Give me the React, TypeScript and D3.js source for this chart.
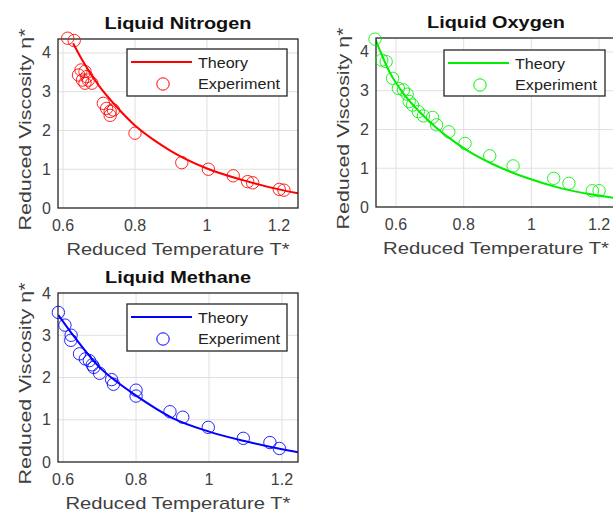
import React from 'react';
import * as d3 from 'd3';

// ---------- data ----------
const xTicks = [0.6, 0.8, 1, 1.2];
const xTickLabels = ['0.6', '0.8', '1', '1.2'];
const yTicks = [0, 1, 2, 3, 4];
const yTickLabels = ['0', '1', '2', '3', '4'];

const titles = ['Liquid Nitrogen', 'Liquid Oxygen', 'Liquid Methane'];
const xLabel = 'Reduced Temperature T*';
const yLabel = 'Reduced  Viscosity  η*';
const legendLabels = ['Theory', 'Experiment'];

const nitrogenTheoryT = [0.628, 0.65, 0.7, 0.75, 0.8, 0.85, 0.9, 1.0, 1.1, 1.2, 1.253];
const nitrogenTheoryEta = [4.25, 3.87, 3.15, 2.6, 2.13, 1.77, 1.47, 1.02, 0.72, 0.48, 0.38];
const nitrogenExpT = [0.613, 0.631, 0.65, 0.661, 0.643, 0.666, 0.654, 0.67, 0.661, 0.68, 0.712, 0.721, 0.731, 0.74, 0.731, 0.8, 0.93, 1.004, 1.073, 1.113, 1.127, 1.201, 1.214];
const nitrogenExpEta = [4.38, 4.32, 3.56, 3.52, 3.43, 3.39, 3.3, 3.3, 3.22, 3.22, 2.7, 2.57, 2.49, 2.53, 2.39, 1.93, 1.17, 1.0, 0.83, 0.68, 0.65, 0.48, 0.46];

const oxygenTheoryT = [0.54, 0.58, 0.62, 0.67, 0.72, 0.77, 0.82, 0.89, 0.99, 1.08, 1.18, 1.25];
const oxygenTheoryEta = [4.31, 3.5, 2.95, 2.45, 2.04, 1.7, 1.41, 1.09, 0.74, 0.5, 0.32, 0.23];
const oxygenExpT = [0.538, 0.558, 0.571, 0.59, 0.607, 0.622, 0.633, 0.639, 0.649, 0.666, 0.681, 0.708, 0.72, 0.756, 0.804, 0.877, 0.946, 1.066, 1.111, 1.18, 1.2];
const oxygenExpEta = [4.33, 3.79, 3.75, 3.32, 3.06, 3.02, 2.91, 2.72, 2.63, 2.46, 2.35, 2.31, 2.12, 1.94, 1.64, 1.32, 1.06, 0.74, 0.61, 0.42, 0.42];

const methaneTheoryT = [0.587, 0.63, 0.7, 0.75, 0.8, 0.9, 1.0, 1.1, 1.2, 1.244];
const methaneTheoryEta = [3.48, 2.97, 2.24, 1.88, 1.57, 1.04, 0.72, 0.49, 0.3, 0.23];
const methaneExpT = [0.587, 0.605, 0.622, 0.621, 0.645, 0.661, 0.672, 0.68, 0.684, 0.7, 0.733, 0.738, 0.8, 0.8, 0.893, 0.928, 0.998, 1.094, 1.167, 1.193];
const methaneExpEta = [3.54, 3.24, 3.0, 2.88, 2.56, 2.44, 2.4, 2.3, 2.24, 2.1, 1.95, 1.84, 1.7, 1.56, 1.19, 1.06, 0.82, 0.56, 0.46, 0.32];

const colors = ['#ff0000', '#00ee00', '#0000ff'];

const FONT = "'Liberation Sans', Arial, Helvetica, sans-serif";

type PanelSpec = {
  title: string;
  color: string;
  theoryT: number[];
  theoryEta: number[];
  expT: number[];
  expEta: number[];
  box: { x0: number; x1: number; y0: number; y1: number };
  xDomain: [number, number];
  yDomain: [number, number];
  legend: { x: number; y: number; w: number; h: number };
  titleLen: number;
  xLabelLen: number;
};

const panels: PanelSpec[] = [
  {
    title: titles[0], color: colors[0],
    theoryT: nitrogenTheoryT, theoryEta: nitrogenTheoryEta, expT: nitrogenExpT, expEta: nitrogenExpEta,
    box: { x0: 58, x1: 298, y0: 39, y1: 208 }, xDomain: [0.586, 1.253], yDomain: [0, 4.36],
    legend: { x: 127, y: 49, w: 160, h: 47 }, titleLen: 147, xLabelLen: 223,
  },
  {
    title: titles[1], color: colors[1],
    theoryT: oxygenTheoryT, theoryEta: oxygenTheoryEta, expT: oxygenExpT, expEta: oxygenExpEta,
    box: { x0: 376, x1: 616, y0: 38, y1: 207 }, xDomain: [0.541, 1.25], yDomain: [0, 4.36],
    legend: { x: 444, y: 50, w: 161, h: 46 }, titleLen: 138, xLabelLen: 226,
  },
  {
    title: titles[2], color: colors[2],
    theoryT: methaneTheoryT, theoryEta: methaneTheoryEta, expT: methaneExpT, expEta: methaneExpEta,
    box: { x0: 58, x1: 298, y0: 293, y1: 462 }, xDomain: [0.586, 1.244], yDomain: [0, 4],
    legend: { x: 127, y: 304, w: 160, h: 47 }, titleLen: 146, xLabelLen: 225,
  },
];

function Panel({ p, idx }: { p: PanelSpec; idx: number }) {
  const { box } = p;
  const x = d3.scaleLinear().domain(p.xDomain).range([box.x0, box.x1]);
  const y = d3.scaleLinear().domain(p.yDomain).range([box.y1, box.y0]);
  const theory = p.theoryT.map((t, i) => [t, p.theoryEta[i]] as [number, number]);
  const line = d3
    .line<[number, number]>()
    .x((d) => x(d[0]))
    .y((d) => y(d[1]))
    .curve(d3.curveMonotoneX);
  const cx = (box.x0 + box.x1) / 2;
  const cy = (box.y0 + box.y1) / 2;
  const clipId = `clip-${idx}`;
  const lg = p.legend;
  const tickGray = '#404040';
  return (
    <g>
      <defs>
        <clipPath id={clipId}>
          <rect x={box.x0} y={box.y0} width={box.x1 - box.x0} height={box.y1 - box.y0} />
        </clipPath>
      </defs>
      <rect x={box.x0} y={box.y0} width={box.x1 - box.x0} height={box.y1 - box.y0} fill="#fff" />
      {xTicks.map((t) => (
        <line key={`gx${t}`} x1={x(t)} x2={x(t)} y1={box.y0} y2={box.y1} stroke="#e0e0e0" strokeWidth={1} />
      ))}
      {yTicks
        .filter((t) => t > p.yDomain[0] && t < p.yDomain[1])
        .map((t) => (
          <line key={`gy${t}`} x1={box.x0} x2={box.x1} y1={y(t)} y2={y(t)} stroke="#e0e0e0" strokeWidth={1} />
        ))}
      <path d={line(theory) || ''} fill="none" stroke={p.color} strokeWidth={2} clipPath={`url(#${clipId})`} />
      <rect x={box.x0} y={box.y0} width={box.x1 - box.x0} height={box.y1 - box.y0} fill="none" stroke="#262626" strokeWidth={1.3} />
      {p.expT.map((t, i) => (
        <circle key={`c${i}`} cx={x(t)} cy={y(p.expEta[i])} r={6.2} fill="none" stroke={p.color} strokeWidth={1} strokeOpacity={0.85} />
      ))}
      {xTicks.map((t, i) => (
        <text key={`tx${t}`} x={x(t)} y={box.y1 + 23} textAnchor="middle" fontSize={16} fill={tickGray} fontFamily={FONT}>
          {xTickLabels[i]}
        </text>
      ))}
      {yTicks.map((t, i) => (
        <text key={`ty${t}`} x={box.x0 - 7} y={y(t) + 5.5} textAnchor="end" fontSize={16} fill={tickGray} fontFamily={FONT}>
          {yTickLabels[i]}
        </text>
      ))}
      <text x={cx} y={box.y0 - 10} textAnchor="middle" fontSize={17} fontWeight="bold" fill="#111" fontFamily={FONT}
        textLength={p.titleLen} lengthAdjust="spacingAndGlyphs">
        {p.title}
      </text>
      <text x={cx} y={box.y1 + 47} textAnchor="middle" fontSize={17} fill={tickGray} fontFamily={FONT}
        textLength={p.xLabelLen} lengthAdjust="spacingAndGlyphs">
        {xLabel}
      </text>
      <text
        transform={`translate(${box.x0 - 27},${cy + 6}) rotate(-90)`}
        textAnchor="middle"
        fontSize={17}
        fill={tickGray}
        fontFamily={FONT}
        textLength={202}
        lengthAdjust="spacingAndGlyphs"
      >
        {yLabel}
      </text>
      <rect x={lg.x} y={lg.y} width={lg.w} height={lg.h} fill="#fff" stroke="#262626" strokeWidth={1.3} />
      <line x1={lg.x + 4} x2={lg.x + 65} y1={lg.y + 13} y2={lg.y + 13} stroke={p.color} strokeWidth={2} />
      <circle cx={lg.x + 36} cy={lg.y + 35} r={6.2} fill="none" stroke={p.color} strokeWidth={1} />
      <text x={lg.x + 71} y={lg.y + 19} fontSize={15} fill="#222" fontFamily={FONT} textLength={50} lengthAdjust="spacingAndGlyphs">
        {legendLabels[0]}
      </text>
      <text x={lg.x + 71} y={lg.y + 40} fontSize={15} fill="#222" fontFamily={FONT} textLength={82} lengthAdjust="spacingAndGlyphs">
        {legendLabels[1]}
      </text>
    </g>
  );
}

export default function App() {
  return (
    <svg
      width={613}
      height={515}
      viewBox="0 0 613 515"
      style={{ position: 'absolute', left: 0, top: 0, background: '#fff' }}
    >
      <rect x={0} y={0} width={613} height={515} fill="#fff" />
      {panels.map((p, i) => (
        <Panel key={i} p={p} idx={i} />
      ))}
    </svg>
  );
}
